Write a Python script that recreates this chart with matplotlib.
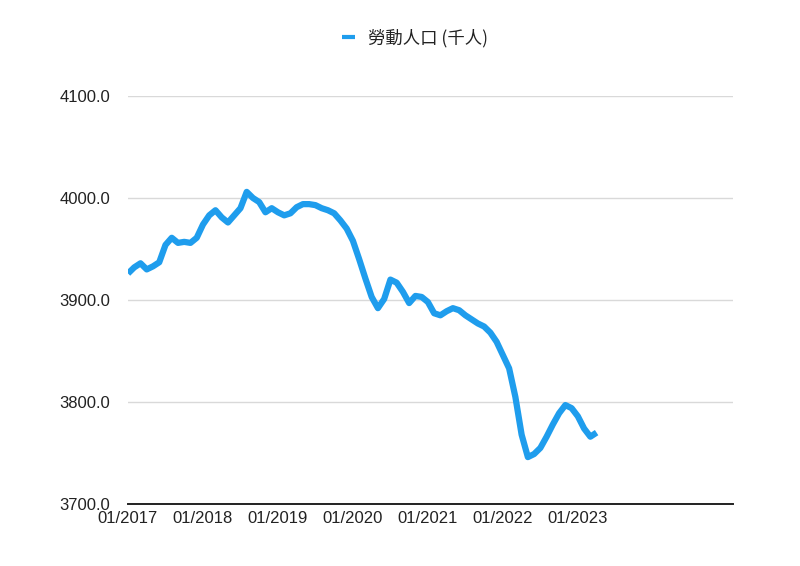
import matplotlib
matplotlib.use('agg')
import matplotlib.pyplot as plt
import numpy as np

# monthly labour force, 01/2017 - 04/2023 (thousand persons)
labour = [3926, 3932, 3936, 3930, 3933, 3937, 3954, 3961, 3956, 3957, 3956, 3961,
          3974, 3983, 3988, 3981, 3976, 3983, 3990, 4006, 4000, 3996, 3986, 3990,
          3986, 3983, 3985, 3991, 3994, 3994, 3993, 3990, 3988, 3985, 3978, 3970,
          3958, 3940, 3921, 3903, 3892, 3901, 3920, 3917, 3908, 3897, 3904, 3903,
          3898, 3887, 3885, 3889, 3892, 3890, 3885, 3881, 3877, 3874, 3868, 3859,
          3846, 3833, 3805, 3768, 3746, 3749, 3755, 3766, 3778, 3789, 3797, 3794,
          3786, 3774, 3766, 3770]
tick_pos = [0, 12, 24, 36, 48, 60, 72]
tick_labels = ['01/2017', '01/2018', '01/2019', '01/2020', '01/2021', '01/2022', '01/2023']
y_ticks = [3700, 3800, 3900, 4000, 4100]
series_name = '勞動人口 (千人)'

months = np.arange(len(labour))

fig = plt.figure(figsize=(8, 5.66), dpi=100)
ax = fig.add_axes([0.16, 0.1095, 0.756, 0.7209])

ax.plot(months, labour, color='#1f9ded', linewidth=4.5,
        solid_joinstyle='round', solid_capstyle='butt', label=series_name)

ax.set_xlim(0, 96.8)
ax.set_ylim(3700, 4100)
ax.set_yticks(y_ticks)
ax.set_yticklabels(['%.1f' % v for v in y_ticks])
ax.set_xticks(tick_pos)
ax.set_xticklabels(tick_labels)

ax.grid(axis='y', color='#d9d9d9', linewidth=1)
ax.set_axisbelow(True)
for s in ['top', 'right', 'left']:
    ax.spines[s].set_visible(False)
ax.spines['bottom'].set_color('#222222')
ax.spines['bottom'].set_linewidth(1.4)
ax.tick_params(axis='both', length=0, labelsize=12, colors='#222222')
ax.tick_params(axis='y', pad=13)
ax.tick_params(axis='x', pad=5)
for t in ax.get_xticklabels() + ax.get_yticklabels():
    t.set_fontfamily(['Liberation Sans', 'DejaVu Sans'])

leg = fig.legend(loc='center', bbox_to_anchor=(415 / 800, 1 - 38 / 566),
                 frameon=False, handlelength=0.75, handletextpad=0.8,
                 prop={'family': ['Noto Sans CJK TC', 'DejaVu Sans'], 'size': 12.5})
for line in leg.get_lines():
    line.set_linewidth(3)
for t in leg.get_texts():
    t.set_color('#222222')

plt.savefig('out.png', dpi=100)
